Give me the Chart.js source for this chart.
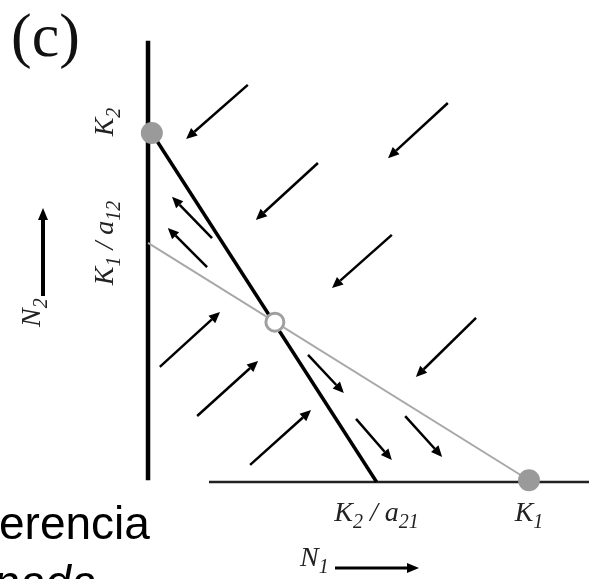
<!DOCTYPE html>
<html><head><meta charset="utf-8">
<script src="https://cdn.jsdelivr.net/npm/chart.js@4"></script>
<style>html,body{margin:0;padding:0;background:#fff;overflow:hidden}#wrap{width:589px;height:579px;position:relative}</style>
</head><body><div id="wrap"><canvas id="c"></canvas></div>
<script>
// Isocline intercepts (arbitrary units)
const K1 = 10;
const K2 = 10;
const K2_over_a21 = 6;
const K1_over_a12 = 6.85;
const K2Point = [0.1, 10];
const K1Point = [10, 0.05];
const equilibrium = [3.33, 4.58];
const n2AxisRange = [0.05, 12.64];
const n1AxisRange = [1.6, 11.6];
const viewX = [-3.885, 11.575];
const viewY = [-2.779, 13.811];

// trajectory arrows: tail -> head
const arrowTails = [[2.62,11.38],[4.46,9.14],[7.87,10.86],[6.40,7.08],[8.61,4.70],[1.68,6.99],[1.55,6.16],[0.31,3.30],[1.29,1.89],[2.68,0.49],[4.20,3.64],[5.46,1.81],[6.75,1.89]];
const arrowHeads = [[1.00,9.83],[2.83,7.51],[6.30,9.28],[4.83,5.56],[7.03,3.01],[0.63,8.17],[0.52,7.28],[1.89,4.87],[2.89,3.47],[4.28,2.06],[5.14,2.55],[6.40,0.63],[7.72,0.72]];

// tick-like labels: [main, sub] pieces
const yTickValues = [K2, K1_over_a12];
const yTickTexts = [[["K","2"]], [["K","1"],[" / ",""],["a","12"]]];
const yTickShift = [-11, 0];
const xTickValues = [K2_over_a21, K1];
const xTickTexts = [[["K","2"],[" / ",""],["a","21"]], [["K","1"]]];

const MAIN = "italic 28px 'Liberation Serif'";
const SUB = "italic 20px 'Liberation Serif'";

function measureParts(ctx, parts){
  let w = 0;
  for (const [m,s] of parts){ ctx.font = MAIN; w += ctx.measureText(m).width; if (s){ ctx.font = SUB; w += ctx.measureText(s).width; } }
  return w;
}
function drawParts(ctx, parts, x, y){
  let cx = x;
  for (const [m,s] of parts){
    ctx.font = MAIN; ctx.fillText(m, cx, y); cx += ctx.measureText(m).width;
    if (s){ ctx.font = SUB; ctx.fillText(s, cx, y + 7); cx += ctx.measureText(s).width; }
  }
}
function arrow(ctx, x0, y0, x1, y1, lw, len, hw){
  const a = Math.atan2(y1 - y0, x1 - x0);
  const bx = x1 - len * Math.cos(a), by = y1 - len * Math.sin(a);
  ctx.beginPath(); ctx.lineWidth = lw; ctx.moveTo(x0, y0); ctx.lineTo(bx, by); ctx.stroke();
  ctx.beginPath(); ctx.moveTo(x1, y1);
  ctx.lineTo(bx + hw * Math.sin(a), by - hw * Math.cos(a));
  ctx.lineTo(bx - hw * Math.sin(a), by + hw * Math.cos(a));
  ctx.closePath(); ctx.fill();
}

const decor = {
  id: 'decor',
  afterDatasetsDraw(chart){
    const ctx = chart.ctx, xs = chart.scales.x, ys = chart.scales.y;
    ctx.save();
    ctx.strokeStyle = '#000'; ctx.fillStyle = '#000'; ctx.lineCap = 'butt';
    for (let i = 0; i < arrowTails.length; i++){
      arrow(ctx, xs.getPixelForValue(arrowTails[i][0]), ys.getPixelForValue(arrowTails[i][1]),
            xs.getPixelForValue(arrowHeads[i][0]), ys.getPixelForValue(arrowHeads[i][1]), 2.5, 11, 5);
    }
    ctx.restore();
  },
  afterDraw(chart){
    const ctx = chart.ctx, xs = chart.scales.x, ys = chart.scales.y;
    const axX = xs.getPixelForValue(0), axY = ys.getPixelForValue(0);
    ctx.save();
    ctx.fillStyle = '#222'; ctx.textBaseline = 'alphabetic'; ctx.textAlign = 'left';
    // y tick labels (rotated)
    yTickValues.forEach((v, i) => {
      const parts = yTickTexts[i];
      const w = measureParts(ctx, parts);
      const py = ys.getPixelForValue(v) + yTickShift[i];
      ctx.save(); ctx.translate(axX - 35, py + w / 2); ctx.rotate(-Math.PI / 2);
      drawParts(ctx, parts, 0, 0); ctx.restore();
    });
    // x tick labels
    xTickValues.forEach((v, i) => {
      const parts = xTickTexts[i];
      const w = measureParts(ctx, parts);
      drawParts(ctx, parts, xs.getPixelForValue(v) - w / 2, axY + 39);
    });
    // axis titles
    ctx.save(); ctx.translate(40, 327); ctx.rotate(-Math.PI / 2);
    drawParts(ctx, [["N","2"]], 0, 0); ctx.restore();
    drawParts(ctx, [["N","1"]], 300, 566);
    ctx.strokeStyle = '#000'; ctx.fillStyle = '#000';
    arrow(ctx, 43, 296, 43, 208, 4, 12, 5);
    arrow(ctx, 335, 568, 419, 568, 3, 12, 5);
    // panel letter
    ctx.fillStyle = '#111';
    ctx.font = "62px 'Liberation Serif'";
    ctx.fillText('(c)', 11, 56);
    // cropped slide text
    ctx.fillStyle = '#000';
    ctx.font = "46px 'Liberation Sans'";
    ctx.fillText('erencia', -1, 539);
    ctx.font = "italic 46px 'Liberation Sans'";
    ctx.fillText('nada', -6, 598);
    ctx.restore();
  }
};

new Chart(document.getElementById('c'), {
  type: 'scatter',
  data: { datasets: [
    { data: [{x:K2Point[0], y:K2Point[1]}, {x:K1Point[0], y:K1Point[1]}], pointRadius: 11, pointBackgroundColor: '#9a9a9a', pointBorderWidth: 0, showLine: false },
    { data: [{x:equilibrium[0], y:equilibrium[1]}], pointRadius: 9, pointBackgroundColor: '#fff', pointBorderColor: '#a0a0a0', pointBorderWidth: 3, showLine: false },
    { data: [{x:K2Point[0], y:K2Point[1]}, {x:K2_over_a21, y:0}], showLine: true, borderColor: '#000', borderWidth: 3.5, pointRadius: 0 },
    { data: [{x:0, y:K1_over_a12}, {x:K1Point[0], y:K1Point[1]}], showLine: true, borderColor: '#a8a8a8', borderWidth: 2, pointRadius: 0 },
    { data: [{x:0, y:n2AxisRange[0]}, {x:0, y:n2AxisRange[1]}], showLine: true, borderColor: '#000', borderWidth: 4.5, pointRadius: 0 },
    { data: [{x:n1AxisRange[0], y:0}, {x:n1AxisRange[1], y:0}], showLine: true, borderColor: '#222', borderWidth: 2.5, pointRadius: 0 }
  ]},
  plugins: [decor],
  options: {
    responsive: true, maintainAspectRatio: false, animation: false, events: [],
    layout: { padding: 0, autoPadding: false },
    plugins: { legend: { display: false }, tooltip: { enabled: false } },
    scales: {
      x: { type: 'linear', display: false, min: viewX[0], max: viewX[1] },
      y: { type: 'linear', display: false, min: viewY[0], max: viewY[1] }
    }
  }
});
</script></body></html>
